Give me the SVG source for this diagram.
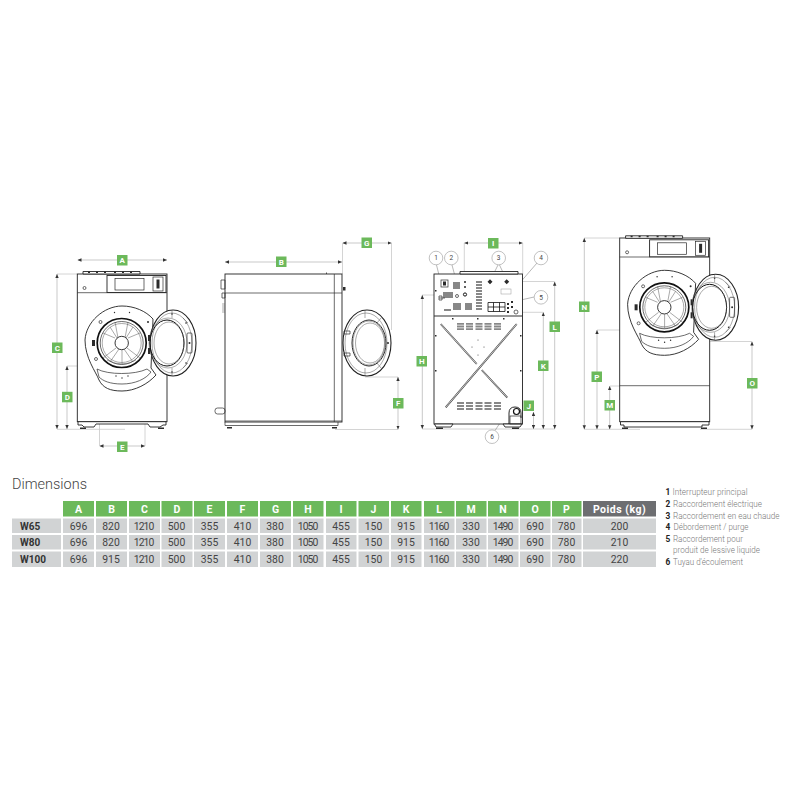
<svg xmlns="http://www.w3.org/2000/svg" xmlns:xlink="http://www.w3.org/1999/xlink" width="800" height="800" viewBox="0 0 800 800">
<style>
text{font-family:Roboto,"Liberation Sans",sans-serif}
.l{fill:#fff;stroke:#222;stroke-width:.9}
.n{fill:none;stroke:#2b2b2b;stroke-width:.7}
.t{fill:none;stroke:#555;stroke-width:.5}
.k{fill:none;stroke:#111;stroke-width:1.7}
.d{fill:#2b2b2b}
.dim{fill:none;stroke:#c9c9c9;stroke-width:1;marker-start:url(#a);marker-end:url(#a)}
.ext{fill:none;stroke:#c9c9c9;stroke-width:.8}
.lead{fill:none;stroke:#888;stroke-width:.6}
.lab{fill:#6cb95b}
.lt{fill:#fff;font-size:8px;font-weight:700;text-anchor:middle}
.cc{fill:#fff;stroke:#999;stroke-width:.6}
.ct{fill:#444;font-size:6.5px;text-anchor:middle}
.hc{fill:#6cb95b}
.cell{fill:#d1d3d4}
.ht{fill:#fff;font-size:10.5px;font-weight:700;text-anchor:middle}
.v{fill:#444;font-size:10.4px;text-anchor:middle}
.rl{fill:#333;font-size:10px;font-weight:700}
.ln{fill:#222;font-size:8.3px;font-weight:700}
.lg{fill:#777;font-size:8.3px;font-weight:300}
.vent{fill:#888}
</style>
<defs>
<marker id="a" viewBox="0 0 6 6" refX="6" refY="3" markerUnits="userSpaceOnUse" markerWidth="4" markerHeight="4" orient="auto-start-reverse"><path d="M0,0.5L6,3L0,5.5Z" fill="#333"/></marker>
<g id="drum">
<path class="l" d="M85,340C86,322 104,306 122,306C134,306 146,311 153,319L151,368L156,375C148,384 135,391 122,391C110,391 103,388 99,380C96,372 85,358 85,340Z"/>
<path class="n" d="M97,369C108,375 135,375 147,369L151,372C146,379 135,384 122,384C110,384 103,381 99,377Z"/>
<circle class="k" cx="121.700" cy="343" r="24.500"/>
<circle class="n" cx="121.700" cy="343" r="21.500"/>
<g class="t">
<circle cx="121.700" cy="343" r="19.500"/>
<path d="M115,322L118,338M103,333L115,338M110,327L117,338M128,322L125,338M140,333L128,338M133,327L126,338"/>
<path d="M103,358L116,348M140,358L127,348M122,350V364M110,362L119,349M133,362L124,349M107,360Q122,368 136,360"/>
</g>
<circle class="l" cx="121.700" cy="343" r="6.700"/>
<circle class="d" cx="114.500" cy="312.500" r=".7"/><circle class="d" cx="129.500" cy="312.500" r=".7"/>
<circle class="n" cx="100.500" cy="322" r="1.500"/><circle class="n" cx="96" cy="359" r="1.500"/><circle class="d" cx="148" cy="322" r="1"/>
<rect class="d" x="92" y="340" width="3" height="6"/>
<circle class="d" cx="116" cy="376" r=".7"/><circle class="d" cx="122" cy="378" r=".7"/><circle class="d" cx="128" cy="376" r=".7"/>
<ellipse class="l" cx="173" cy="343" rx="23" ry="33" style="stroke-width:1.100"/>
<ellipse class="t" cx="172" cy="343" rx="20" ry="30"/>
<ellipse class="k" cx="167" cy="343" rx="17" ry="23" style="stroke-width:1"/>
<ellipse class="t" cx="168" cy="343" rx="19" ry="25"/>
<ellipse class="t" cx="169" cy="343" rx="15" ry="21"/>
<rect class="n" x="187" y="333" width="5" height="20" rx="1"/>
<circle class="d" cx="189.500" cy="343" r="1"/><circle class="d" cx="172" cy="314" r=".8"/><circle class="d" cx="172" cy="372" r=".8"/><circle class="d" cx="186" cy="323" r=".8"/><circle class="d" cx="186" cy="363" r=".8"/>
<path class="t" d="M172,310V318M172,368V376M183,318L188,323M183,368L188,363"/>
<rect class="d" x="148" y="335" width="2" height="6"/>
<rect class="d" x="148" y="348" width="2" height="6"/>
</g>
<g id="panel">
<path class="l" d="M83,274V271.500H140V274Z"/>
<path class="d" d="M88,271.500h2v1.500h-2zM96,271.500h2v1.500h-2zM104,271.500h2v1.500h-2zM114,271.500h2v1.500h-2zM122,271.500h2v1.500h-2zM130,271.500h2v1.500h-2z"/>
<rect class="l" x="107" y="275.500" width="59" height="17"/>
<rect class="n" x="115" y="278.500" width="29" height="11.500"/>
<rect class="n" x="153" y="277" width="10" height="14"/>
<rect class="d" x="156.500" y="279.500" width="3" height="9"/>
<circle class="n" cx="84.500" cy="288" r="1.500"/>
</g>
</defs>

<g id="connectors">
<path class="ext" d="M57,274H77M57,429.300H125M67,366H100M99.500,385V446M145,370V446"/>
<path class="ext" d="M342.500,243V274M391.500,243V330M365,377H398M335,429.500H398"/>
<path class="ext" d="M464.300,243V272M522.700,243V274M422,295H446M515,312.300H543M522,281.500H554.700M422,429H555"/>
<path class="ext" d="M584,238H620M597,330H645M610,386H620M584,429.300H640M700,341.500H752M700,429.300H752"/>
<path class="dim" d="M77.500,260H167"/>
<path class="dim" d="M57,274V429"/>
<path class="dim" d="M67,366V429"/>
<path class="dim" d="M99.500,446H145"/>
<path class="dim" d="M225,262H342"/>
<path class="dim" d="M342.500,243H391.500"/>
<path class="dim" d="M398,377V429.500"/>
<path class="dim" d="M464.300,243H522.700"/>
<path class="dim" d="M422.300,295V429"/>
<path class="dim" d="M533.500,412V429"/>
<path class="dim" d="M543.300,312.300V429"/>
<path class="dim" d="M554.700,281.700V429"/>
<path class="dim" d="M584.300,238V429.300"/>
<path class="dim" d="M597,330V429.300"/>
<path class="dim" d="M609.700,386V429.300"/>
<path class="dim" d="M752,341.500V429.300"/>
<path class="lead" d="M436.500,265L440,279M452,265L456,280M498,265L490,281M499.500,265L507,281M537,263L505,300M534,297L512,302M495,430.500L510,408"/>
</g>

<g id="front-view">
<rect class="l" x="77.300" y="274" width="89.700" height="147.700"/>
<path class="n" d="M77.300,292.700H167"/>
<path class="l" d="M78,421.700V425H82L84,427H94L96,424H148L150,427H160L163,425H166V421.700Z"/>
<path class="d" d="M80,427.500h6v1.500h-6zM158,427.500h6v1.500h-6z"/>
<use xlink:href="#panel"/>
<use xlink:href="#drum"/>
</g>

<g id="side-view">
<rect class="l" x="225" y="274" width="117" height="148"/>
<path class="n" d="M225,293H342M334.300,274V422M225,422V425.500H338V422"/>
<path class="n" d="M225,421H342"/>
<path class="n" d="M221,280h4v9h-4zM222,293h3v5h-3z"/>
<path class="t" d="M222,304h3M222,306h3M222,308h3M222,310h3M222,312h3"/>
<rect class="n" x="215" y="408" width="10" height="6" rx="2.500"/>
<path class="d" d="M343,287h2.500v3.500h-2.500zM326,272.500h.8v1.500h-.8zM227,427h5v1.500h-5zM332,427h5v1.500h-5z"/>
<ellipse class="l" cx="367" cy="343" rx="24" ry="33" style="stroke-width:1.100"/>
<ellipse class="t" cx="366" cy="343" rx="21" ry="30"/>
<ellipse class="n" cx="369" cy="343" rx="17" ry="23" style="stroke-width:1"/>
<ellipse class="t" cx="369" cy="343" rx="16" ry="22"/>
<ellipse class="t" cx="370" cy="343" rx="14.500" ry="20"/>
<path class="t" d="M365,310V318M365,368V376M381,318L377,323M381,368L377,363"/>
<path class="n" d="M344,331h6v3h-6zM344,353h6v3h-6z"/>
<circle class="d" cx="388" cy="343" r="1"/>
</g>

<g id="rear-view">
<rect class="l" x="434" y="274" width="88.500" height="150"/>
<path class="l" d="M460,274V271.500H518V274Z"/>
<path class="k" d="M434,316H522.500" style="stroke:#333;stroke-width:1.200"/>
<path class="l" d="M434.500,424L436,427H451L453,424ZM503,424L505,427H520L522,424Z"/>
<path class="d" d="M436,427.500h7v1.500h-7zM512,427.500h7v1.500h-7z"/>
<rect class="n" x="441" y="280" width="7" height="7"/><rect class="d" x="443" y="281.500" width="3" height="4"/>
<path class="vent" d="M453,282h7v7h-7zM476,281h6v2h-6zM476,284h6v2h-6zM476,287h6v2h-6zM476,290h6v2h-6zM476,293h6v2h-6zM476,296h6v2h-6zM476,299h6v2h-6zM476,302h6v2h-6zM476,305h6v2h-6zM476,308h6v2h-6zM453,303h8v7h-8zM465,303h7v7h-7zM444,309h7v2h-7zM443,292h10v6h-10z"/>
<circle class="k" cx="465" cy="294.500" r="1.600" style="stroke-width:1"/>
<circle class="n" cx="457" cy="296" r="1.500"/>
<circle class="d" cx="465" cy="282" r="1"/><circle class="d" cx="465" cy="287" r="1"/>
<path class="n" d="M439,298h6M439,296h3v4h-3z"/>
<path class="d" d="M487.500,281.700l2.500,-2.500l2.500,2.500l-2.500,2.500zM504.200,281.700l2.500,-2.500l2.500,2.500l-2.500,2.500z"/>
<rect class="l" x="501" y="289" width="10" height="5" style="stroke:#999;stroke-width:.5"/>
<path class="k" d="M488,302.500h17v9h-17zM493.500,302.500v9M499.500,302.500v9M488,307h17" style="stroke-width:.8"/>
<path class="d" d="M507,303h2v2h-2zM511,301h2v2h-2zM507,307h2v2h-2zM511,306h2v2h-2zM507,311h2v2h-2z"/>
<circle class="n" cx="516" cy="312" r="2"/>
<path class="k" d="M440.700,324L476.700,364M516.700,324L445.700,407.300M481.700,370L507.300,397.700" style="stroke:#444;stroke-width:1.800"/>
<path d="M440.700,324L476.700,364M516.700,324L445.700,407.300M481.700,370L507.300,397.700" fill="none" stroke="#fff" stroke-width=".7"/>
<path class="vent" d="M457,323h7v1.800h-7zM457,325.600h7v1.800h-7zM457,328.200h7v1.800h-7zM466,323h7v1.800h-7zM466,325.600h7v1.800h-7zM466,328.200h7v1.800h-7zM475.500,323h7v1.800h-7zM475.500,325.600h7v1.800h-7zM475.500,328.200h7v1.800h-7zM484.500,323h7v1.800h-7zM484.500,325.600h7v1.800h-7zM484.500,328.200h7v1.800h-7zM494,323h7v1.800h-7zM494,325.600h7v1.800h-7zM494,328.200h7v1.800h-7z"/>
<path class="vent" d="M457,402h7v2h-7zM457,405h7v2h-7zM457,408h7v2h-7zM466,402h7v2h-7zM466,405h7v2h-7zM466,408h7v2h-7zM475.500,402h7v2h-7zM475.500,405h7v2h-7zM475.500,408h7v2h-7zM484.500,402h7v2h-7zM484.500,405h7v2h-7zM484.500,408h7v2h-7zM494,402h7v2h-7zM494,405h7v2h-7zM494,408h7v2h-7z"/>
<path class="k" d="M509,424V413Q509,407 515,407Q521,407 521,413V418" style="stroke-width:.9"/>
<circle class="k" cx="516.500" cy="411.500" r="3" style="stroke-width:1.200"/>
<rect class="n" x="510" y="416" width="11" height="8"/>
<path class="d" d="M435,290h1.500v1.500h-1.500zM435,335h1.500v1.500h-1.500zM435,370h1.500v1.500h-1.500zM520,335h1.500v1.500h-1.500zM520,370h1.500v1.500h-1.500zM452,318h1.500v1.500h-1.500zM477,318h1.500v1.500h-1.500zM503,318h1.500v1.500h-1.500z"/>
<circle class="d" cx="478" cy="340" r=".5"/><circle class="d" cx="472" cy="347" r=".5"/><circle class="d" cx="484" cy="347" r=".5"/><circle class="d" cx="478" cy="355" r=".5"/>
</g>

<g id="front-view-pedestal">
<rect class="l" x="619.700" y="238" width="90" height="183.700"/>
<path class="n" d="M619.700,257H709.700M619.700,385.700H709.700"/>
<path class="l" d="M620.500,421.700V425H624V427H702V425H709V421.700Z"/>
<path class="d" d="M622,427.500h6v1.500h-6zM701,427.500h6v1.500h-6z"/>
<g transform="translate(542.600,-35.700)">
<use xlink:href="#panel"/>
<use xlink:href="#drum"/>
</g>
</g>

<g id="labels">
<g id="dim-A"><rect class="lab" x="117" y="255" width="10.500" height="10.500"/><text class="lt" x="122.250" y="263">A</text></g>
<g id="dim-B"><rect class="lab" x="276" y="256.500" width="10.500" height="10.500"/><text class="lt" x="281.250" y="264.500">B</text></g>
<g id="dim-C"><rect class="lab" x="52" y="342.500" width="10.500" height="10.500"/><text class="lt" x="57.250" y="350.500">C</text></g>
<g id="dim-D"><rect class="lab" x="62" y="391.800" width="10.500" height="10.500"/><text class="lt" x="67.250" y="399.800">D</text></g>
<g id="dim-E"><rect class="lab" x="117" y="441.500" width="10.500" height="10.500"/><text class="lt" x="122.250" y="449.500">E</text></g>
<g id="dim-F"><rect class="lab" x="393" y="398" width="10.500" height="10.500"/><text class="lt" x="398.250" y="406">F</text></g>
<g id="dim-G"><rect class="lab" x="361.500" y="237.500" width="10.500" height="10.500"/><text class="lt" x="366.750" y="245.500">G</text></g>
<g id="dim-H"><rect class="lab" x="416.500" y="356" width="10.500" height="10.500"/><text class="lt" x="421.750" y="364">H</text></g>
<g id="dim-I"><rect class="lab" x="488" y="238" width="10.500" height="10.500"/><text class="lt" x="493.250" y="246">I</text></g>
<g id="dim-J"><rect class="lab" x="523.500" y="400.500" width="10.500" height="10.500"/><text class="lt" x="528.750" y="408.500">J</text></g>
<g id="dim-K"><rect class="lab" x="538" y="360.500" width="10.500" height="10.500"/><text class="lt" x="543.250" y="368.500">K</text></g>
<g id="dim-L"><rect class="lab" x="549.500" y="321.500" width="10.500" height="10.500"/><text class="lt" x="554.750" y="329.500">L</text></g>
<g id="dim-M"><rect class="lab" x="604.500" y="400" width="10.500" height="10.500"/><text class="lt" x="609.750" y="408">M</text></g>
<g id="dim-N"><rect class="lab" x="579" y="301.500" width="10.500" height="10.500"/><text class="lt" x="584.250" y="309.500">N</text></g>
<g id="dim-O"><rect class="lab" x="747" y="378" width="10.500" height="10.500"/><text class="lt" x="752.250" y="386">O</text></g>
<g id="dim-P"><rect class="lab" x="591.500" y="371.500" width="10.500" height="10.500"/><text class="lt" x="596.750" y="379.500">P</text></g>
</g>

<g id="callouts">
<g id="callout-1"><circle class="cc" cx="436" cy="258" r="6.800"/><text class="ct" x="436" y="260.300">1</text></g>
<g id="callout-2"><circle class="cc" cx="451.300" cy="258" r="6.800"/><text class="ct" x="451.300" y="260.300">2</text></g>
<g id="callout-3"><circle class="cc" cx="498.700" cy="258" r="6.800"/><text class="ct" x="498.700" y="260.300">3</text></g>
<g id="callout-4"><circle class="cc" cx="541" cy="258" r="6.800"/><text class="ct" x="541" y="260.300">4</text></g>
<g id="callout-5"><circle class="cc" cx="541" cy="297.300" r="6.800"/><text class="ct" x="541" y="299.600">5</text></g>
<g id="callout-6"><circle class="cc" cx="492" cy="436.700" r="6.800"/><text class="ct" x="492" y="439">6</text></g>
</g>

<g id="table">
<text x="12" y="489" font-size="15.500" font-weight="300" fill="#444" textLength="75" lengthAdjust="spacingAndGlyphs">Dimensions</text>
<g id="header">
<path class="hc" d="M63,501h31v15.500h-31zM96,501h31v15.500h-31zM129,501h31v15.500h-31zM161.500,501h31v15.500h-31zM194,501h31v15.500h-31zM227,501h31v15.500h-31zM260,501h31v15.500h-31zM293,501h30.500v15.500h-30.500zM326,501h30.500v15.500h-30.500zM358.500,501h30.500v15.500h-30.500zM391,501h30.500v15.500h-30.500zM424,501h30.500v15.500h-30.500zM456,501h30.500v15.500h-30.500zM488,501h30.500v15.500h-30.500zM520,501h30.500v15.500h-30.500zM552,501h29.500v15.500h-29.500z"/>
<rect x="583" y="501" width="73" height="15.500" fill="#6d6e71"/>
<text class="ht" x="78.500" y="512.700">A</text><text class="ht" x="111.500" y="512.700">B</text><text class="ht" x="144.500" y="512.700">C</text><text class="ht" x="177" y="512.700">D</text><text class="ht" x="209.500" y="512.700">E</text><text class="ht" x="242.500" y="512.700">F</text><text class="ht" x="275.500" y="512.700">G</text><text class="ht" x="308" y="512.700">H</text><text class="ht" x="341" y="512.700">I</text><text class="ht" x="373.500" y="512.700">J</text><text class="ht" x="406" y="512.700">K</text><text class="ht" x="439" y="512.700">L</text><text class="ht" x="471" y="512.700">M</text><text class="ht" x="503" y="512.700">N</text><text class="ht" x="535" y="512.700">O</text><text class="ht" x="566.500" y="512.700">P</text>
<text class="ht" x="619.500" y="512.700" letter-spacing=".5">Poids (kg)</text>
</g>
<g id="row-W65">
<path class="cell" d="M12,518.500h49v14.500h-49zM63,518.500h31v14.500h-31zM96,518.500h31v14.500h-31zM129,518.500h31v14.500h-31zM161.500,518.500h31v14.500h-31zM194,518.500h31v14.500h-31zM227,518.500h31v14.500h-31zM260,518.500h31v14.500h-31zM293,518.500h30.500v14.500h-30.500zM326,518.500h30.500v14.500h-30.500zM358.500,518.500h30.500v14.500h-30.500zM391,518.500h30.500v14.500h-30.500zM424,518.500h30.500v14.500h-30.500zM456,518.500h30.500v14.500h-30.500zM488,518.500h30.500v14.500h-30.500zM520,518.500h30.500v14.500h-30.500zM552,518.500h29.500v14.500h-29.500zM583,518.500h73v14.500h-73z"/>
<text class="rl" x="20" y="530">W65</text>
<text class="v" x="78.500" y="530">696</text><text class="v" x="111" y="530">820</text><text class="v" x="144" y="530" textLength="20.500">1210</text><text class="v" x="176.500" y="530">500</text><text class="v" x="209.500" y="530">355</text><text class="v" x="242.500" y="530">410</text><text class="v" x="275" y="530">380</text><text class="v" x="308" y="530" textLength="20.500">1050</text><text class="v" x="341" y="530">455</text><text class="v" x="373.500" y="530">150</text><text class="v" x="406" y="530">915</text><text class="v" x="439" y="530" textLength="20.500">1160</text><text class="v" x="471" y="530">330</text><text class="v" x="503" y="530" textLength="20.500">1490</text><text class="v" x="535" y="530">690</text><text class="v" x="566.500" y="530">780</text><text class="v" x="619.500" y="530">200</text>
</g>
<g id="row-W80">
<path class="cell" d="M12,535h49v14.500h-49zM63,535h31v14.500h-31zM96,535h31v14.500h-31zM129,535h31v14.500h-31zM161.500,535h31v14.500h-31zM194,535h31v14.500h-31zM227,535h31v14.500h-31zM260,535h31v14.500h-31zM293,535h30.500v14.500h-30.500zM326,535h30.500v14.500h-30.500zM358.500,535h30.500v14.500h-30.500zM391,535h30.500v14.500h-30.500zM424,535h30.500v14.500h-30.500zM456,535h30.500v14.500h-30.500zM488,535h30.500v14.500h-30.500zM520,535h30.500v14.500h-30.500zM552,535h29.500v14.500h-29.500zM583,535h73v14.500h-73z"/>
<text class="rl" x="20" y="546">W80</text>
<text class="v" x="78.500" y="546">696</text><text class="v" x="111" y="546">820</text><text class="v" x="144" y="546" textLength="20.500">1210</text><text class="v" x="176.500" y="546">500</text><text class="v" x="209.500" y="546">355</text><text class="v" x="242.500" y="546">410</text><text class="v" x="275" y="546">380</text><text class="v" x="308" y="546" textLength="20.500">1050</text><text class="v" x="341" y="546">455</text><text class="v" x="373.500" y="546">150</text><text class="v" x="406" y="546">915</text><text class="v" x="439" y="546" textLength="20.500">1160</text><text class="v" x="471" y="546">330</text><text class="v" x="503" y="546" textLength="20.500">1490</text><text class="v" x="535" y="546">690</text><text class="v" x="566.500" y="546">780</text><text class="v" x="619.500" y="546">210</text>
</g>
<g id="row-W100">
<path class="cell" d="M12,551.500h49v15.500h-49zM63,551.500h31v15.500h-31zM96,551.500h31v15.500h-31zM129,551.500h31v15.500h-31zM161.500,551.500h31v15.500h-31zM194,551.500h31v15.500h-31zM227,551.500h31v15.500h-31zM260,551.500h31v15.500h-31zM293,551.500h30.500v15.500h-30.500zM326,551.500h30.500v15.500h-30.500zM358.500,551.500h30.500v15.500h-30.500zM391,551.500h30.500v15.500h-30.500zM424,551.500h30.500v15.500h-30.500zM456,551.500h30.500v15.500h-30.500zM488,551.500h30.500v15.500h-30.500zM520,551.500h30.500v15.500h-30.500zM552,551.500h29.500v15.500h-29.500zM583,551.500h73v15.500h-73z"/>
<text class="rl" x="20" y="563">W100</text>
<text class="v" x="78.500" y="563">696</text><text class="v" x="111" y="563">915</text><text class="v" x="144" y="563" textLength="20.500">1210</text><text class="v" x="176.500" y="563">500</text><text class="v" x="209.500" y="563">355</text><text class="v" x="242.500" y="563">410</text><text class="v" x="275" y="563">380</text><text class="v" x="308" y="563" textLength="20.500">1050</text><text class="v" x="341" y="563">455</text><text class="v" x="373.500" y="563">150</text><text class="v" x="406" y="563">915</text><text class="v" x="439" y="563" textLength="20.500">1160</text><text class="v" x="471" y="563">330</text><text class="v" x="503" y="563" textLength="20.500">1490</text><text class="v" x="535" y="563">690</text><text class="v" x="566.500" y="563">780</text><text class="v" x="619.500" y="563">220</text>
</g>
</g>

<g id="legend">
<text class="ln" x="665.500" y="495">1</text><text class="lg" x="672.500" y="495" textLength="75" lengthAdjust="spacingAndGlyphs">Interrupteur principal</text>
<text class="ln" x="665.500" y="507">2</text><text class="lg" x="673" y="507" textLength="89" lengthAdjust="spacingAndGlyphs">Raccordement électrique</text>
<text class="ln" x="665.500" y="518.500">3</text><text class="lg" x="673" y="518.500" textLength="106.500" lengthAdjust="spacingAndGlyphs">Raccordement en eau chaude</text>
<text class="ln" x="665.500" y="530">4</text><text class="lg" x="673.500" y="530" textLength="75" lengthAdjust="spacingAndGlyphs">Débordement / purge</text>
<text class="ln" x="665.500" y="541.500">5</text><text class="lg" x="673" y="541.500" textLength="70" lengthAdjust="spacingAndGlyphs">Raccordement pour</text>
<text class="lg" x="673" y="553" textLength="87" lengthAdjust="spacingAndGlyphs">produit de lessive liquide</text>
<text class="ln" x="665.500" y="564.500">6</text><text class="lg" x="673" y="564.500" textLength="70" lengthAdjust="spacingAndGlyphs">Tuyau d'écoulement</text>
</g>
</svg>
